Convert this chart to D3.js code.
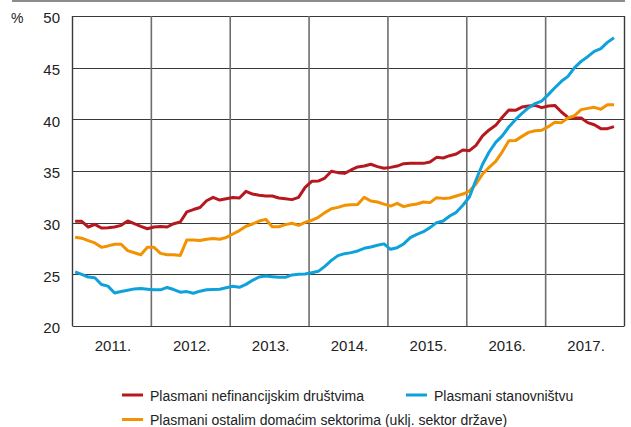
<!DOCTYPE html>
<html>
<head>
<meta charset="utf-8">
<script src="https://cdn.jsdelivr.net/npm/d3@7"></script>
<style>
  html, body { margin: 0; padding: 0; background: #fff; }
  svg { display: block; font-family: "Liberation Sans", Arial, sans-serif; }
</style>
</head>
<body>
<svg id="chart" width="631" height="427"></svg>
<script>
// Monthly shares (%), January 2011 – November 2017
const yearLabels = ["2011.", "2012.", "2013.", "2014.", "2015.", "2016.", "2017."];
const yTicks = [20, 25, 30, 35, 40, 45, 50];

const nefinancijska = [
  30.13, 30.13, 29.58, 29.84, 29.48, 29.51, 29.58, 29.74, 30.16, 29.9, 29.64, 29.41,
  29.58, 29.64, 29.58, 29.9, 30.07, 31.05, 31.27, 31.47, 32.12, 32.45, 32.19, 32.32,
  32.43, 32.39, 33.03, 32.77, 32.65, 32.58, 32.58, 32.39, 32.32, 32.23, 32.45, 33.42,
  34.0, 34.03, 34.32, 34.97, 34.84, 34.77, 35.1, 35.39, 35.48, 35.65, 35.42, 35.26,
  35.35, 35.48, 35.71, 35.74, 35.74, 35.74, 35.87, 36.32, 36.26, 36.48, 36.65, 37.03,
  36.97, 37.48, 38.39, 38.97, 39.42, 40.2, 40.9, 40.87, 41.19, 41.29, 41.35, 41.13,
  41.29, 41.35, 40.71, 40.19, 40.13, 40.13, 39.68, 39.48, 39.1, 39.1, 39.29
];
const ostali = [
  28.59, 28.5, 28.27, 28.04, 27.61, 27.75, 27.91, 27.91, 27.29, 27.09, 26.9, 27.61,
  27.61, 27.03, 26.9, 26.9, 26.83, 28.33, 28.33, 28.27, 28.4, 28.46, 28.4, 28.57,
  28.9, 29.23, 29.65, 29.87, 30.16, 30.32, 29.61, 29.61, 29.81, 29.94, 29.74, 30.03,
  30.23, 30.52, 30.97, 31.35, 31.48, 31.68, 31.74, 31.77, 32.45, 32.1, 32.0, 31.79,
  31.61, 31.87, 31.55, 31.71, 31.81, 32.0, 31.94, 32.42, 32.35, 32.39, 32.58, 32.77,
  33.06, 33.74, 34.71, 35.35, 35.94, 36.86, 37.92, 37.94, 38.35, 38.74, 38.9, 38.94,
  39.29, 39.71, 39.68, 40.13, 40.35, 40.94, 41.06, 41.16, 40.97, 41.42, 41.42
];
const stanovnistvo = [
  25.23, 25.0, 24.74, 24.67, 24.02, 23.86, 23.2, 23.33, 23.46, 23.59, 23.63, 23.56,
  23.5, 23.5, 23.73, 23.53, 23.27, 23.33, 23.17, 23.37, 23.5, 23.53, 23.56, 23.7,
  23.84, 23.74, 24.03, 24.42, 24.74, 24.84, 24.77, 24.71, 24.71, 24.94, 25.0, 25.03,
  25.16, 25.29, 25.77, 26.35, 26.81, 27.0, 27.1, 27.26, 27.52, 27.65, 27.81, 27.95,
  27.42, 27.58, 27.94, 28.55, 28.87, 29.13, 29.52, 30.0, 30.16, 30.65, 31.0, 31.68,
  32.48, 34.13, 35.65, 36.84, 37.77, 38.4, 39.26, 39.97, 40.58, 41.13, 41.52, 41.77,
  42.39, 43.06, 43.68, 44.16, 45.0, 45.61, 46.06, 46.58, 46.84, 47.45, 47.9
];

const seriesNames = [
  "Plasmani nefinancijskim društvima",
  "Plasmani stanovništvu",
  "Plasmani ostalim domaćim sektorima (uklj. sektor države)"
];
const seriesColors = ["#b5191f", "#0ea1db", "#f39200"];

const series = [
  { name: seriesNames[0], color: seriesColors[0], values: nefinancijska },
  { name: seriesNames[2], color: seriesColors[2], values: ostali },
  { name: seriesNames[1], color: seriesColors[1], values: stanovnistvo }
];

const svg = d3.select("#chart");
const plot = { left: 72.5, right: 624.5, top: 16, bottom: 326 };

// x: months since January 2011
const x = d3.scaleLinear().domain([0, 84]).range([plot.left, plot.right]);
const y = d3.scaleLinear().domain([20, 50]).range([plot.bottom, plot.top]);

// rule across the top of the figure
svg.append("rect")
  .attr("x", 12).attr("y", 0).attr("width", 613).attr("height", 2)
  .attr("fill", "#8c8c8c");

// horizontal grid
svg.append("g").selectAll("line").data(yTicks).join("line")
  .attr("x1", plot.left).attr("x2", plot.right)
  .attr("y1", d => Math.round(y(d)) + 0.5).attr("y2", d => Math.round(y(d)) + 0.5)
  .attr("stroke", "#3a3a3a").attr("stroke-width", 1.2);

// vertical grid at year boundaries
const yearBounds = d3.range(0, 85, 12);
svg.append("g").selectAll("line").data(yearBounds).join("line")
  .attr("x1", d => x(d)).attr("x2", d => x(d))
  .attr("y1", plot.top).attr("y2", plot.bottom)
  .attr("stroke", d => (d === 0 || d === 84) ? "#3a3a3a" : "#6e6e6e")
  .attr("stroke-width", d => (d === 0 || d === 84) ? 1.4 : 1.6);

// y tick labels
svg.append("g").selectAll("text").data(yTicks).join("text")
  .attr("x", 60).attr("y", d => y(d) + 7.3)
  .attr("text-anchor", "end")
  .attr("font-size", 15).attr("fill", "#222")
  .text(d => d);

svg.append("text")
  .attr("x", 11).attr("y", 23.3)
  .attr("font-size", 14).attr("fill", "#222")
  .text("%");

// year labels centred in each year
svg.append("g").selectAll("text").data(yearLabels).join("text")
  .attr("x", (d, i) => x(i * 12 + 6) + 1)
  .attr("y", 351)
  .attr("text-anchor", "middle")
  .attr("font-size", 15).attr("fill", "#222")
  .text(d => d);

// series lines
const line = d3.line()
  .x((d, i) => x(i + 0.4))
  .y(d => y(d));

svg.append("g").selectAll("path").data(series).join("path")
  .attr("d", d => line(d.values))
  .attr("fill", "none")
  .attr("stroke", d => d.color)
  .attr("stroke-width", 3)
  .attr("stroke-linejoin", "round")
  .attr("stroke-linecap", "butt");

// legend
const legendItems = [
  { name: seriesNames[0], color: seriesColors[0], x: 122, y: 395 },
  { name: seriesNames[1], color: seriesColors[1], x: 406, y: 395 },
  { name: seriesNames[2], color: seriesColors[2], x: 122, y: 419.5 }
];
const lg = svg.append("g").selectAll("g").data(legendItems).join("g")
  .attr("transform", d => `translate(${d.x},${d.y})`);
lg.append("line")
  .attr("x1", 0).attr("x2", 21).attr("y1", 0).attr("y2", 0)
  .attr("stroke", d => d.color).attr("stroke-width", 3);
lg.append("text")
  .attr("x", 28).attr("y", 5.5)
  .attr("font-size", 14).attr("fill", "#222")
  .text(d => d.name);
</script>
</body>
</html>
